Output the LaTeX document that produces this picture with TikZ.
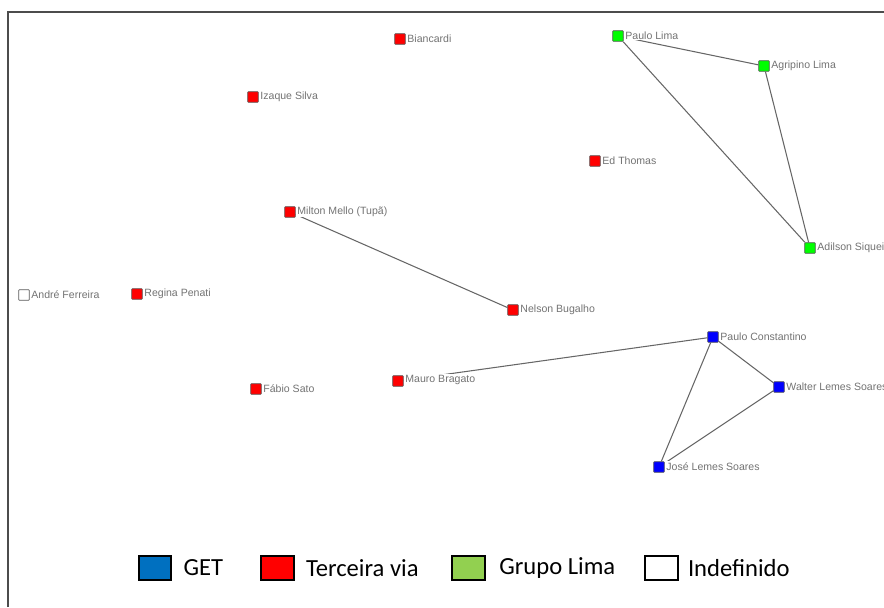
\documentclass[tikz,border=0pt]{standalone}
\usepackage{fontspec}
\setmainfont{Liberation Sans}
\newfontfamily\legendfont{Carlito}
\usetikzlibrary{positioning,backgrounds}
\definecolor{getkey}{RGB}{0,112,192}
\definecolor{limakey}{RGB}{146,208,80}

\begin{document}
\begin{tikzpicture}
 [x=0.03cm,y=-0.03cm,
% Member styles
    member/.style={rectangle,draw=black!65,line width=0.6pt,minimum size=0.32cm,
        inner sep=0,rounded corners=0.6pt},
    get/.style={member,fill=blue},
    terceira/.style={member,fill=red},
    lima/.style={member,fill=green},
    indef/.style={member,fill=white},
% Label style
    label distance=0.3pt,
    every label/.style={font=\fontsize{9}{10}\selectfont,text=black!55,
        fill=white,inner sep=1pt,yshift=0.6pt},
% Tie style
    tie/.style={draw=black!60,line width=0.9pt},
% Legend style
    key/.style={rectangle,draw=black,line width=1.6pt,minimum width=0.98cm,
        minimum height=0.7cm,inner sep=0},
    keytext/.style={font=\legendfont\fontsize{21}{23}\selectfont,inner sep=0,
        right=0.3cm}
 ]
 \useasboundingbox (0,0) rectangle (884,607);
 \clip (0,0) rectangle (884,607);
%% Frame
 \draw[black!70,line width=1.4pt] (8,607) -- (8,12) -- (884,12);
%% Members
 \node (bianc)   [terceira,label=east:Biancardi]            at (400,39)  {};
 \node (plima)   [lima,label=east:Paulo Lima]               at (618,36)  {};
 \node (agrip)   [lima,label=east:Agripino Lima]            at (764,66)  {};
 \node (izaque)  [terceira,label=east:Izaque Silva]         at (253,97)  {};
 \node (edth)    [terceira,label=east:Ed Thomas]            at (595,161) {};
 \node (milton)  [terceira,label=east:Milton Mello (Tupã)]  at (290,212) {};
 \node (adilson) [lima,label=east:Adilson Siqueira]         at (810,248) {};
 \node (andre)   [indef,label=east:André Ferreira]          at (24,295)  {};
 \node (regina)  [terceira,label=east:Regina Penati]        at (137,294) {};
 \node (nelson)  [terceira,label=east:Nelson Bugalho]       at (513,310) {};
 \node (pconst)  [get,label=east:Paulo Constantino]         at (713,337) {};
 \node (mauro)   [terceira,label=east:Mauro Bragato]        at (398,381) {};
 \node (fabio)   [terceira,label=east:Fábio Sato]           at (256,389) {};
 \node (walter)  [get,label=east:Walter Lemes Soares]       at (779,387) {};
 \node (jose)    [get,label=east:José Lemes Soares]         at (659,467) {};
%% Ties
 \begin{scope}[on background layer]
   \draw[tie] (plima) -- (agrip);
   \draw[tie] (plima) -- (adilson);
   \draw[tie] (agrip) -- (adilson);
   \draw[tie] (milton) -- (nelson);
   \draw[tie] (mauro) -- (pconst);
   \draw[tie] (pconst) -- (walter);
   \draw[tie] (pconst) -- (jose);
   \draw[tie] (walter) -- (jose);
 \end{scope}
%% Legend
 \node (kget)   [key,fill=getkey]   at (155,568)   {};
 \node (tget)   [keytext,right=0.33cm of kget]   {GET};
 \node (kterc)  [key,fill=red]      at (277.5,568) {};
 \node (tterc)  [keytext,right=0.33cm of kterc]  {Terceira via};
 \node (klima)  [key,fill=limakey]  at (468.5,568) {};
 \node (tlima)  [keytext,right=0.4cm of klima]   {Grupo Lima};
 \node (kindef) [key,fill=white]    at (661.5,568) {};
 \node (tindef) [keytext,right=0.27cm of kindef] {Indefinido};
\end{tikzpicture}
\end{document}
